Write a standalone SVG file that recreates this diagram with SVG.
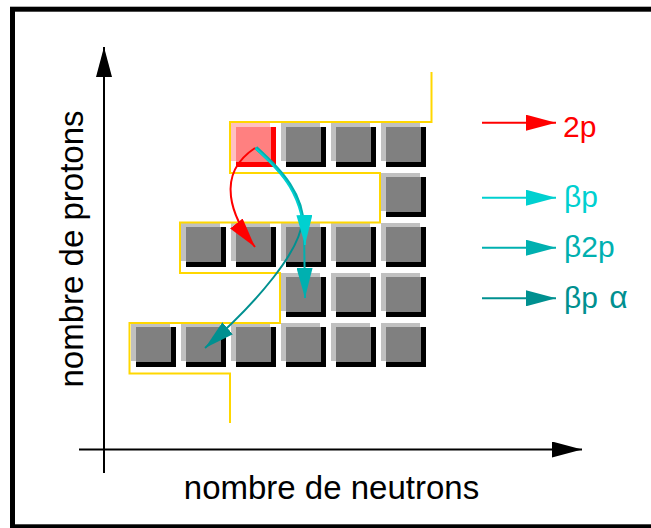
<svg xmlns="http://www.w3.org/2000/svg" width="651" height="528" viewBox="0 0 651 528">
  <style>
    .hl { fill: #c0c0c0; }
    .sh { fill: #000000; }
    .fc { fill: #808080; }
    .p .hl { fill: #ffc0c0; }
    .p .sh { fill: #ff0000; }
    .p .fc { fill: #ff8080; }
    .lbl { font-family: "Liberation Sans", Arial, Helvetica, sans-serif; font-size: 33px; fill: #000; }
    .leg { font-family: "Liberation Sans", Arial, Helvetica, sans-serif; font-size: 30px; }
    .ln { fill: none; stroke-width: 2; }
  </style>
  <defs>
    <marker id="hK" markerUnits="userSpaceOnUse" viewBox="0 0 30 16" markerWidth="30" markerHeight="16" refX="30" refY="8" orient="auto"><path d="M0,0 L30,8 L0,16 z" fill="#000"/></marker>
    <marker id="hR" markerUnits="userSpaceOnUse" viewBox="0 0 30 16" markerWidth="30" markerHeight="16" refX="30" refY="8" orient="auto"><path d="M0,0 L30,8 L0,16 z" fill="#ff0000"/></marker>
    <marker id="hC1" markerUnits="userSpaceOnUse" viewBox="0 0 30 16" markerWidth="30" markerHeight="16" refX="30" refY="8" orient="auto"><path d="M0,0 L30,8 L0,16 z" fill="#00d0d0"/></marker>
    <marker id="hC2" markerUnits="userSpaceOnUse" viewBox="0 0 30 16" markerWidth="30" markerHeight="16" refX="30" refY="8" orient="auto"><path d="M0,0 L30,8 L0,16 z" fill="#00b0b0"/></marker>
    <marker id="hC3" markerUnits="userSpaceOnUse" viewBox="0 0 30 16" markerWidth="30" markerHeight="16" refX="30" refY="8" orient="auto"><path d="M0,0 L30,8 L0,16 z" fill="#009090"/></marker>
  </defs>

  <rect x="0" y="0" width="651" height="528" fill="#ffffff"/>
  <!-- frame -->
  <rect x="12.5" y="9.2" width="700" height="517.6" fill="none" stroke="#000" stroke-width="5"/>

  <!-- axes -->
  <g id="axes">
    <path class="ln" stroke="#000" d="M104,473 V47" marker-end="url(#hK)"/>
    <path class="ln" stroke="#000" d="M79,449.5 H582" marker-end="url(#hK)"/>
    <text class="lbl" x="331.5" y="499" text-anchor="middle">nombre de neutrons</text>
    <text class="lbl" transform="translate(83,249) rotate(-90)" text-anchor="middle">nombre de protons</text>
  </g>

  <!-- nuclei: row 0 -->
  <g id="n-r0-c2" class="p"><rect class="hl" x="231" y="123" width="39" height="38"/><rect class="sh" x="236" y="127" width="40" height="40"/><rect class="fc" x="236" y="127" width="35" height="35"/></g>
  <g id="n-r0-c3"><rect class="hl" x="281" y="123" width="39" height="38"/><rect class="sh" x="286" y="127" width="40" height="40"/><rect class="fc" x="286" y="127" width="35" height="35"/></g>
  <g id="n-r0-c4"><rect class="hl" x="331" y="123" width="39" height="38"/><rect class="sh" x="336" y="127" width="40" height="40"/><rect class="fc" x="336" y="127" width="35" height="35"/></g>
  <g id="n-r0-c5"><rect class="hl" x="381" y="123" width="39" height="38"/><rect class="sh" x="386" y="127" width="40" height="40"/><rect class="fc" x="386" y="127" width="35" height="35"/></g>
  <!-- row 1 -->
  <g id="n-r1-c5"><rect class="hl" x="381" y="173" width="39" height="38"/><rect class="sh" x="386" y="177" width="40" height="40"/><rect class="fc" x="386" y="177" width="35" height="35"/></g>
  <!-- row 2 -->
  <g id="n-r2-c1"><rect class="hl" x="181" y="223" width="39" height="38"/><rect class="sh" x="186" y="227" width="40" height="40"/><rect class="fc" x="186" y="227" width="35" height="35"/></g>
  <g id="n-r2-c2"><rect class="hl" x="231" y="223" width="39" height="38"/><rect class="sh" x="236" y="227" width="40" height="40"/><rect class="fc" x="236" y="227" width="35" height="35"/></g>
  <g id="n-r2-c3"><rect class="hl" x="281" y="223" width="39" height="38"/><rect class="sh" x="286" y="227" width="40" height="40"/><rect class="fc" x="286" y="227" width="35" height="35"/></g>
  <g id="n-r2-c4"><rect class="hl" x="331" y="223" width="39" height="38"/><rect class="sh" x="336" y="227" width="40" height="40"/><rect class="fc" x="336" y="227" width="35" height="35"/></g>
  <g id="n-r2-c5"><rect class="hl" x="381" y="223" width="39" height="38"/><rect class="sh" x="386" y="227" width="40" height="40"/><rect class="fc" x="386" y="227" width="35" height="35"/></g>
  <!-- row 3 -->
  <g id="n-r3-c3"><rect class="hl" x="281" y="273" width="39" height="38"/><rect class="sh" x="286" y="277" width="40" height="40"/><rect class="fc" x="286" y="277" width="35" height="35"/></g>
  <g id="n-r3-c4"><rect class="hl" x="331" y="273" width="39" height="38"/><rect class="sh" x="336" y="277" width="40" height="40"/><rect class="fc" x="336" y="277" width="35" height="35"/></g>
  <g id="n-r3-c5"><rect class="hl" x="381" y="273" width="39" height="38"/><rect class="sh" x="386" y="277" width="40" height="40"/><rect class="fc" x="386" y="277" width="35" height="35"/></g>
  <!-- row 4 -->
  <g id="n-r4-c0"><rect class="hl" x="131" y="323" width="39" height="38"/><rect class="sh" x="136" y="327" width="40" height="40"/><rect class="fc" x="136" y="327" width="35" height="35"/></g>
  <g id="n-r4-c1"><rect class="hl" x="181" y="323" width="39" height="38"/><rect class="sh" x="186" y="327" width="40" height="40"/><rect class="fc" x="186" y="327" width="35" height="35"/></g>
  <g id="n-r4-c2"><rect class="hl" x="231" y="323" width="39" height="38"/><rect class="sh" x="236" y="327" width="40" height="40"/><rect class="fc" x="236" y="327" width="35" height="35"/></g>
  <g id="n-r4-c3"><rect class="hl" x="281" y="323" width="39" height="38"/><rect class="sh" x="286" y="327" width="40" height="40"/><rect class="fc" x="286" y="327" width="35" height="35"/></g>
  <g id="n-r4-c4"><rect class="hl" x="331" y="323" width="39" height="38"/><rect class="sh" x="336" y="327" width="40" height="40"/><rect class="fc" x="336" y="327" width="35" height="35"/></g>
  <g id="n-r4-c5"><rect class="hl" x="381" y="323" width="39" height="38"/><rect class="sh" x="386" y="327" width="40" height="40"/><rect class="fc" x="386" y="327" width="35" height="35"/></g>

  <!-- drip line -->
  <g id="dripline">
    <path class="ln" stroke="#ffd700" d="M431.5,72 V122 H230 V173 H380 V222.5 H180 V273 H280 V323 H129.5 V373.5 H230 V423"/>
  </g>

  <!-- decay paths -->
  <g id="connectors">
    <path class="ln" stroke="#009090" d="M255,148 C282,172 303,195 302,222 C300,250 260,300 205,348" marker-end="url(#hC3)"/>
    <path class="ln" stroke="#00b0b0" d="M256.5,147 C283,171 304,194 304,228 L305,298" marker-end="url(#hC2)"/>
    <path class="ln" stroke="#00d0d0" d="M255,148 C282,172 304,195 305,245" marker-end="url(#hC1)"/>
    <path class="ln" stroke="#ff0000" d="M255,148 C214,175 232,218 255,247" marker-end="url(#hR)"/>
  </g>

  <!-- legend -->
  <g id="legend-2p">
    <path class="ln" stroke="#ff0000" d="M482,122.7 H556" marker-end="url(#hR)"/>
    <text class="leg" x="563" y="136.7" fill="#ff0000">2p</text>
  </g>
  <g id="legend-bp">
    <path class="ln" stroke="#00d0d0" d="M482,197.7 H556" marker-end="url(#hC1)"/>
    <text class="leg" x="564" y="206.5" fill="#00d0d0">βp</text>
  </g>
  <g id="legend-b2p">
    <path class="ln" stroke="#00b0b0" d="M482,247.7 H556" marker-end="url(#hC2)"/>
    <text class="leg" x="564" y="256.5" fill="#00b0b0">β2p</text>
  </g>
  <g id="legend-bpa">
    <path class="ln" stroke="#009090" d="M482,298.3 H556" marker-end="url(#hC3)"/>
    <text class="leg" x="564" y="307.5" fill="#009090">βp <tspan dx="3" font-size="32">α</tspan></text>
  </g>
</svg>
